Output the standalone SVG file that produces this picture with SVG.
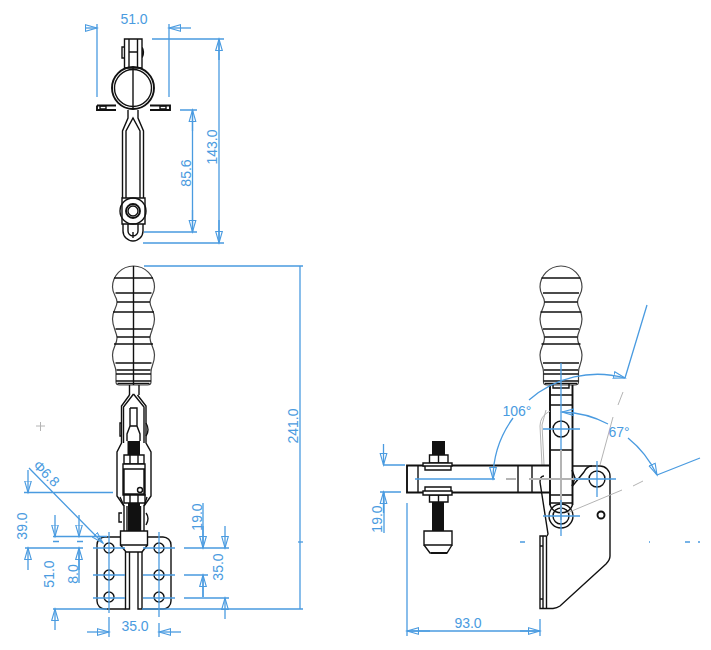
<svg xmlns="http://www.w3.org/2000/svg" width="711" height="650" viewBox="0 0 711 650">
<style>
.k{fill:none;stroke:#111;stroke-width:1.4}
.o{fill:none;stroke:#444;stroke-width:1.2}
.l{fill:none;stroke:#111;stroke-width:1.6}
.t{fill:none;stroke:#111;stroke-width:1.9}
.f{fill:#111;stroke:none}
.w{fill:#fff;stroke:#111;stroke-width:1.4}
.b{fill:none;stroke:#4a9be0;stroke-width:1.3}
.a{fill:none;stroke:#4a9be0;stroke-width:1.3;marker-end:url(#ah)}
.g{fill:none;stroke:#b4b4b4;stroke-width:1}
.gt{fill:none;stroke:#b4b4b4;stroke-width:2}
text{font-family:"Liberation Sans",Arial,sans-serif;font-size:14px;fill:#4a9be0;text-anchor:middle}
</style>
<defs>
<marker id="ah" markerUnits="userSpaceOnUse" markerWidth="14" markerHeight="9" refX="12" refY="4.500" orient="auto">
<path d="M0.500 1.200L12 4.500L0.500 7.800Z" fill="none" stroke="#4a9be0" stroke-width="1.100"/>
</marker>
<g id="grip">
<path class="o" d="M0 266C12 266 21 276 21 287C21 295 16.500 296 16.500 302C16.500 308 21 310 21 319C21 328 16.500 332 16.500 338C16.500 344 21 348 21 355C21 364 17.500 366 17.500 372L17.500 382Q17.500 385 14 385L-14 385Q-17.500 385 -17.500 382L-17.500 372C-17.500 366 -21 364 -21 355C-21 348 -16.500 344 -16.500 338C-16.500 332 -21 328 -21 319C-21 310 -16.500 308 -16.500 302C-16.500 296 -21 295 -21 287C-21 276 -12 266 0 266Z"/>
<path class="l" d="M-19.500 278H19.500M-18 293H18M-16.500 302H16.500M-20.500 312H20.500M-18 329H18M-16.500 337H16.500M-19.500 344H19.500M-18 363H18M-17 370H17M-17.500 374H17.500M-17.500 381H17.500M-16 383.500H16"/>
</g>
</defs>
<g id="top-view">
<path class="k" d="M124.500 39H142V68H124.500ZM129 39V68M137.500 39V68M129 52H137.500M124.500 47H122V58H124.500M142 47Q145 52 142 58"/>
<circle class="t" cx="133" cy="88" r="21"/>
<circle class="k" cx="133" cy="88" r="18.500"/>
<path class="k" d="M133 68V109"/>
<path class="t" d="M97 105.500H116M150 105.500H170V110H150M116 110H97V105.500"/>
<path class="k" d="M100 106H106V109H100ZM160 106H166V109H160Z"/>
<path class="k" d="M128 110V118L122.500 131V198M126 198V131L133 118L140 131V198M138 110V118L143.500 131V198"/>
<path class="k" d="M122 198H145V224H122Z"/>
<circle class="k" cx="133" cy="211" r="13"/>
<circle class="t" cx="133" cy="211" r="7"/>
<circle class="k" cx="133" cy="211" r="5"/>
<path class="k" d="M123 224V231A10 10 0 0 0 143 231V224M128 224V231A5 5 0 0 0 138 231V224M133 232V238"/>
</g>
<g id="front-view">
<use href="#grip" x="133.500"/>
<path class="k" d="M133.500 266V385M129.500 385V395M139 385V395"/>
<path class="k" d="M129.500 395L121.500 406V443L117 452V496L124 506V531M137.500 395L146 406V443L151 452V496L144 506V531"/>
<path class="k" d="M133.500 394L123.500 407V443M133.500 394L144 407V443M120 497L124 506M147 497L144 506M127 506V531M140.500 506V531"/>
<path class="k" d="M130 408H137V426L140 434V441M130 408V426L127 434V441M130 426H137"/>
<path class="k" d="M122 423H120V436H122M146 423Q150 430 146 436M122 513H119V522H122M146 513Q150 518 146 525"/>
<rect class="f" x="127.500" y="441" width="12.500" height="15"/>
<rect class="f" x="128" y="503" width="12" height="28"/>
<path class="w" d="M124 455H144V464H124ZM130 455V464M138 455V464"/>
<path class="w" d="M123 464H145V495H123ZM124 469H144V494H124Z"/>
<path class="w" d="M124 495H145V503H124ZM130 495V503M138 495V503"/>
<circle class="k" cx="140" cy="490" r="2.500"/>
<path class="w" d="M120.500 531H147.500V545H120.500Z"/>
<path class="k" d="M120.500 545L126 552H142L147.500 545"/>
<path class="k" d="M120 537H105A8 8 0 0 0 97 545V601A8 8 0 0 0 105 609H125.500M147.500 537H163A8 8 0 0 1 171 545V601A8 8 0 0 1 163 609H142"/>
<path class="k" d="M125.500 552V609H129.500V552M138 552V609H142V552"/>
<circle class="k" cx="109" cy="548" r="5"/><circle class="k" cx="159" cy="548" r="5"/>
<circle class="k" cx="109" cy="575" r="5"/><circle class="k" cx="159" cy="575" r="5"/>
<circle class="k" cx="109" cy="597" r="5"/><circle class="k" cx="159" cy="597" r="5"/>
</g>
<g id="side-view">
<use href="#grip" x="561"/>
<path class="t" d="M550 385V505M572.500 385V505"/>
<path class="k" d="M550 395H572.500M550 405H572.500M550 450H572.500M550 495H572.500M550 503H572.500M553 384V388H569V384"/>
<path class="k" d="M550 505A12 12 0 0 0 572.500 505"/>
<circle class="k" cx="561" cy="429" r="8"/>
<circle class="k" cx="561" cy="516" r="8"/>
<circle class="k" cx="561" cy="516" r="12"/>
<circle class="k" cx="597" cy="479" r="8"/>
<path class="g" d="M550 411Q540 416 540 426L542 465M546 410L542 425L544 465"/>
<path class="k" d="M544 476Q540 476 540 482L548 534L547 536"/>
<path class="k" d="M572.500 466H600A10 10 0 0 1 610 476V556Q610 560 606 564L560 606Q557 608 553 608.500H540V536H546.500"/>
<path class="k" d="M543 536V609M546.500 536V609M540 546H543M540 599H543M572.500 486L584 472Q587 466 592 466M572 470L575 478L572 486"/>
<circle class="t" cx="601" cy="515" r="3.500"/>
<path class="t" d="M550 465.500H407V492.500H550"/>
<path class="k" d="M418 465.500V492.500M518 465.500V492.500M532 465.500V492.500"/>
<rect class="f" x="432" y="441" width="13" height="14"/>
<rect class="f" x="432" y="502" width="12" height="29"/>
<path class="w" d="M429.500 455H448V463H429.500ZM438.500 455V463M429.500 495H448V502H429.500ZM438.500 495V502"/>
<path class="w" d="M423 463H452V466H423ZM425 466H451V470H425ZM425 487H451V491H425ZM423 491H452V495H423Z"/>
<path class="w" d="M424 531H452V545H424Z"/>
<path class="k" d="M424 545L430 553H447L452 545"/>
<path class="t" d="M431 553H447"/>
<path class="gt" d="M506 479H516M529 479H590M561 450V520"/>
<path class="g" d="M623 392L618 405M613 417L600 465M567 513L622 490M633 486L643 481"/>
</g>
<g id="dimensions">
<path class="b" d="M97 24V97M169 24V97M152 39H224M180 110H197M144 232H197M143 243H224"/>
<path class="a" d="M86 28H97"/><path class="a" d="M191 28H169"/>
<path class="a" d="M219 60V39"/><path class="a" d="M219 220V243"/>
<path class="a" d="M192.500 131V110"/><path class="a" d="M192.500 210V232"/>
<path class="b" d="M219 39V243M192.500 110V232"/>
<text x="134" y="24">51.0</text>
<text transform="translate(217 147) rotate(-90)">143.0</text>
<text transform="translate(191 173) rotate(-90)">85.6</text>
<path class="b" d="M144 266H303M300 266V609"/>
<path class="b" d="M298 542H303"/>
<text transform="translate(298 426) rotate(-90)">241.0</text>
<path class="b" d="M24 492.500H113M53 536.500H107M53 541.500H59M77 541.500H83M25 548H83M53 609H107M29 468L90 530"/>
<path class="a" d="M90 530L103 543"/>
<path class="a" d="M28 470V492.500"/>
<path class="a" d="M55 515V536.500"/><path class="a" d="M79 515V536.500"/>
<path class="a" d="M28 570V548"/><path class="a" d="M79 570V548"/>
<path class="b" d="M79 548V583"/>
<path class="a" d="M55 630V609"/>
<text transform="translate(27 526) rotate(-90)">39.0</text>
<text transform="translate(54 574) rotate(-90)">51.0</text>
<text transform="translate(78 574) rotate(-90)">8.0</text>
<text transform="translate(43 477) rotate(45)">Φ6.8</text>
<path class="b" d="M93 548H125M143 548H175M184 548H229M93 575H125M143 575H175M184 575H208M93 598H125M143 598H175M184 598H229M142 609H303M109 532V613M159 532V617"/>
<path class="a" d="M87 632H109"/><path class="a" d="M181 632H159"/>
<path class="b" d="M109 617V637M159 623V637"/>
<text x="135" y="631">35.0</text>
<path class="b" d="M203 503V548M203 575V597"/>
<path class="a" d="M203 526V548"/><path class="a" d="M225 526V548"/>
<path class="a" d="M203 597V575"/><path class="a" d="M225 619V598"/>
<text transform="translate(202 517) rotate(-90)">19.0</text>
<text transform="translate(223 567) rotate(-90)">35.0</text>
<path class="g" d="M36 426H45M40.500 422V431"/>
<path class="b" d="M384 465H405M380 492H401M384 492V533M407 503V636M540 619V636"/>
<path class="a" d="M383.500 444V465"/><path class="a" d="M383.500 513V492"/>
<text transform="translate(382 519) rotate(-90)">19.0</text>
<path class="a" d="M430 631H407"/><path class="a" d="M520 631H540"/>
<path class="b" d="M407 631H540"/>
<text x="468" y="628">93.0</text>
<path class="b" d="M415 479H495"/>
<path class="b" d="M561 363V450M561 500V536M543 429H580M543 516H580M597 461V497M574 479H616M625 378L647 305M657 475L700 458"/>
<path class="b" d="M520 542H525M649 542H650M685 542H690M698 542H700"/>
<path class="a" d="M513 418A104 104 0 0 0 493 479"/>
<path class="a" d="M529 400A104 104 0 0 1 625 378"/>
<text x="517" y="416">106°</text>
<path class="a" d="M608 424A104 104 0 0 0 562 412"/>
<path class="a" d="M628 438A104 104 0 0 1 657 475"/>
<text x="619" y="437">67°</text>
</g>
</svg>
